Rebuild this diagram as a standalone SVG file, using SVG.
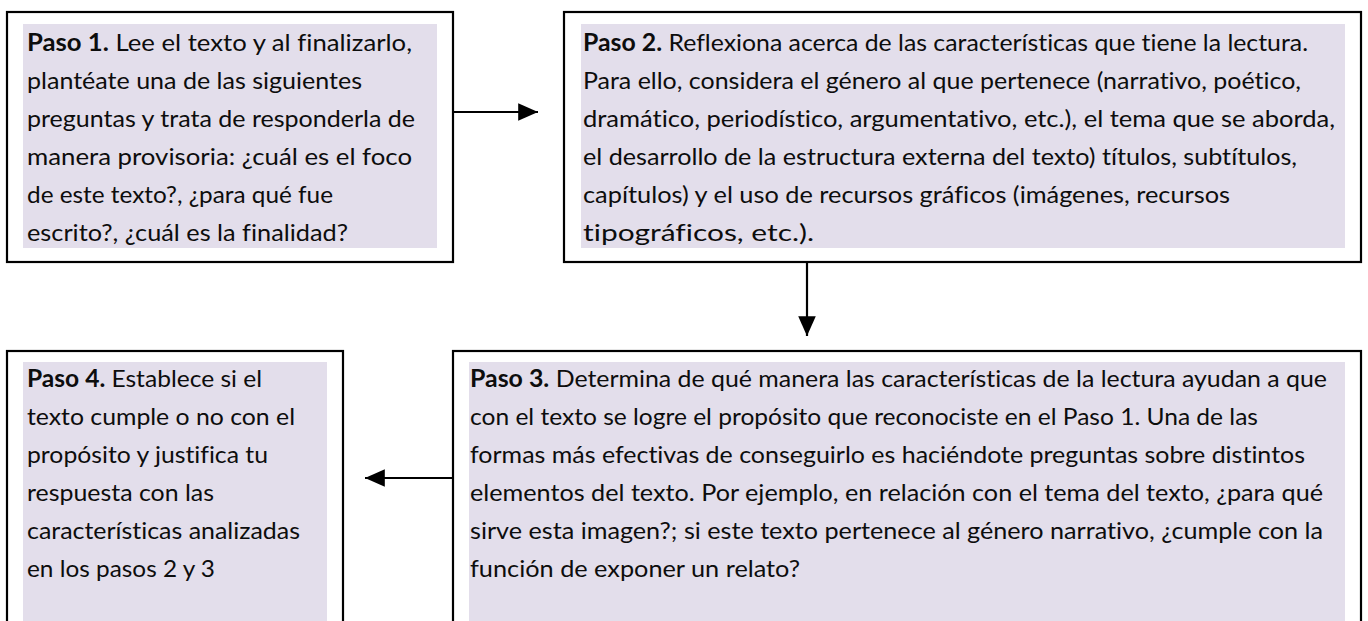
<svg xmlns="http://www.w3.org/2000/svg" width="1368" height="621" viewBox="0 0 1368 621">
<style>
.box{fill:#ffffff;stroke:#000000;stroke-width:2.2}
.fill{fill:#e3deeb}
.t{font-family:Lato,"Open Sans","Liberation Sans",sans-serif;font-size:24px;fill:#0d0d0d;font-variant-ligatures:none}
.b{font-weight:bold}
.con{stroke:#000000;stroke-width:2.2;fill:none}
</style>
<defs>
<marker id="arr" markerWidth="10" markerHeight="8" refX="9" refY="4" orient="auto" markerUnits="strokeWidth">
<path d="M0,0 L9,4 L0,8 Z" fill="#000000"/>
</marker>
</defs>
<rect width="1368" height="621" fill="#ffffff"/>
<g id="paso1">
<rect class="box" x="7" y="12" width="446" height="250"/>
<rect class="fill" x="23" y="24" width="414" height="224"/>
<text class="t" x="27" y="50.5" textLength="385" lengthAdjust="spacingAndGlyphs"><tspan class="b">Paso 1.</tspan> Lee el texto y al finalizarlo,</text>
<text class="t" x="27" y="88.5" textLength="335" lengthAdjust="spacingAndGlyphs">plantéate una de las siguientes</text>
<text class="t" x="27" y="126.5" textLength="388" lengthAdjust="spacingAndGlyphs">preguntas y trata de responderla de</text>
<text class="t" x="27" y="164.5" textLength="385" lengthAdjust="spacingAndGlyphs">manera provisoria: ¿cuál es el foco</text>
<text class="t" x="27" y="202.5" textLength="306" lengthAdjust="spacingAndGlyphs">de este texto?, ¿para qué fue</text>
<text class="t" x="27" y="240.5" textLength="321" lengthAdjust="spacingAndGlyphs">escrito?, ¿cuál es la finalidad?</text>
</g>
<g id="paso2">
<rect class="box" x="564" y="12" width="797" height="250"/>
<rect class="fill" x="581" y="24" width="764" height="224"/>
<text class="t" x="583" y="50.5" textLength="725" lengthAdjust="spacingAndGlyphs"><tspan class="b">Paso 2.</tspan> Reflexiona acerca de las características que tiene la lectura.</text>
<text class="t" x="583" y="88.5" textLength="718" lengthAdjust="spacingAndGlyphs">Para ello, considera el género al que pertenece (narrativo, poético,</text>
<text class="t" x="583" y="126.5" textLength="752" lengthAdjust="spacingAndGlyphs">dramático, periodístico, argumentativo, etc.), el tema que se aborda,</text>
<text class="t" x="583" y="164.5" textLength="714" lengthAdjust="spacingAndGlyphs">el desarrollo de la estructura externa del texto) títulos, subtítulos,</text>
<text class="t" x="583" y="202.5" textLength="647" lengthAdjust="spacingAndGlyphs">capítulos) y el uso de recursos gráficos (imágenes, recursos</text>
<text class="t" x="583" y="240.5" textLength="231" lengthAdjust="spacingAndGlyphs">tipográficos, etc.).</text>
</g>
<g id="paso3">
<rect class="box" x="453" y="351" width="908" height="290"/>
<rect class="fill" x="469" y="362" width="876" height="270"/>
<text class="t" x="470" y="387" textLength="857" lengthAdjust="spacingAndGlyphs"><tspan class="b">Paso 3.</tspan> Determina de qué manera las características de la lectura ayudan a que</text>
<text class="t" x="470" y="425" textLength="788" lengthAdjust="spacingAndGlyphs">con el texto se logre el propósito que reconociste en el Paso 1. Una de las</text>
<text class="t" x="470" y="463" textLength="835" lengthAdjust="spacingAndGlyphs">formas más efectivas de conseguirlo es haciéndote preguntas sobre distintos</text>
<text class="t" x="470" y="501" textLength="853" lengthAdjust="spacingAndGlyphs">elementos del texto. Por ejemplo, en relación con el tema del texto, ¿para qué</text>
<text class="t" x="470" y="539" textLength="853" lengthAdjust="spacingAndGlyphs">sirve esta imagen?; si este texto pertenece al género narrativo, ¿cumple con la</text>
<text class="t" x="470" y="577" textLength="330" lengthAdjust="spacingAndGlyphs">función de exponer un relato?</text>
</g>
<g id="paso4">
<rect class="box" x="7" y="351" width="336" height="290"/>
<rect class="fill" x="23" y="362" width="304" height="270"/>
<text class="t" x="27" y="387" textLength="235" lengthAdjust="spacingAndGlyphs"><tspan class="b">Paso 4.</tspan> Establece si el</text>
<text class="t" x="27" y="425" textLength="268" lengthAdjust="spacingAndGlyphs">texto cumple o no con el</text>
<text class="t" x="27" y="463" textLength="241" lengthAdjust="spacingAndGlyphs">propósito y justifica tu</text>
<text class="t" x="27" y="501" textLength="187" lengthAdjust="spacingAndGlyphs">respuesta con las</text>
<text class="t" x="27" y="539" textLength="273" lengthAdjust="spacingAndGlyphs">características analizadas</text>
<text class="t" x="27" y="577" textLength="188" lengthAdjust="spacingAndGlyphs">en los pasos 2 y 3</text>
</g>
<g id="connectors">
<line class="con" x1="453" y1="112" x2="538" y2="112" marker-end="url(#arr)"/>
<line class="con" x1="807" y1="262" x2="807" y2="336" marker-end="url(#arr)"/>
<line class="con" x1="453" y1="478" x2="365" y2="478" marker-end="url(#arr)"/>
</g>
</svg>
